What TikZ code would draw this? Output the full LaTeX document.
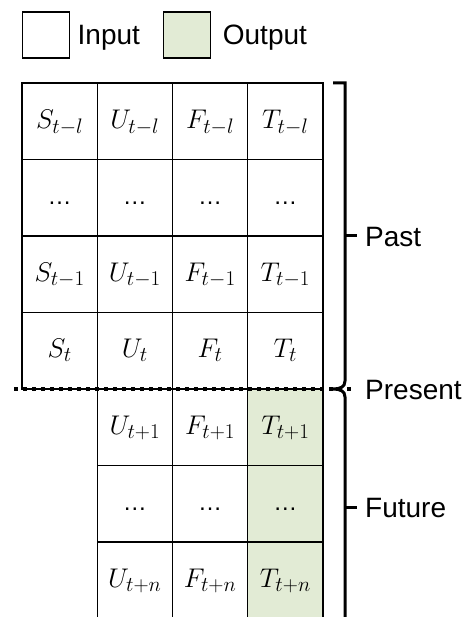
\RequirePackage{fix-cm}
\documentclass[tikz,border=0pt]{standalone}
\usepackage{fontspec}
\newfontfamily\labelfont{Liberation Sans}
\usetikzlibrary{positioning, calc}
\definecolor{outgreen}{RGB}{226,235,213}
\DeclareMathSizes{27}{27}{21}{16}

\begin{document}
\begin{tikzpicture}[
    x=1pt, y=-1pt,
    cell/.style={rectangle, minimum width=75.25pt, minimum height=76.5pt, inner sep=0pt, outer sep=0pt, text height=20pt, text depth=6pt, draw=black, line width=1.4pt, font=\fontsize{27}{31}\selectfont},
    outcell/.style={cell, fill=outgreen},
    keybox/.style={rectangle, minimum width=47pt, minimum height=46pt, inner sep=0pt, outer sep=0pt, draw=black, line width=1.4pt},
    sidetext/.style={inner sep=0pt, text height=20pt, text depth=0pt, font=\labelfont\fontsize{28}{32}\selectfont},
    bracket/.style={line width=3pt},
    divider/.style={line width=3.5pt, dash pattern=on 4pt off 5pt}
]
\useasboundingbox (0,0) rectangle (467,617);

% legend
\node (inkey) [keybox] at (46,35) {};
\node (intext) [sidetext, right=8pt of inkey] {Input};
\node (outkey) [keybox, fill=outgreen, right=23.5pt of intext] {};
\node (outtext) [sidetext, right=12pt of outkey] {Output};

% past rows
\node (s1) [cell] at (59.625,121.25) {$S_{t-l}$};
\node (u1) [cell, right=0pt of s1] {$U_{t-l}$};
\node (f1) [cell, right=0pt of u1] {$F_{t-l}$};
\node (t1) [cell, right=0pt of f1] {$T_{t-l}$};

\node (s2) [cell, below=0pt of s1] {\labelfont\fontsize{24}{28}\selectfont …};
\node (u2) [cell, below=0pt of u1] {\labelfont\fontsize{24}{28}\selectfont …};
\node (f2) [cell, below=0pt of f1] {\labelfont\fontsize{24}{28}\selectfont …};
\node (t2) [cell, below=0pt of t1] {\labelfont\fontsize{24}{28}\selectfont …};

\node (s3) [cell, below=0pt of s2] {$S_{t-1}$};
\node (u3) [cell, below=0pt of u2] {$U_{t-1}$};
\node (f3) [cell, below=0pt of f2] {$F_{t-1}$};
\node (t3) [cell, below=0pt of t2] {$T_{t-1}$};

\node (s4) [cell, below=0pt of s3] {$S_{t}$};
\node (u4) [cell, below=0pt of u3] {$U_{t}$};
\node (f4) [cell, below=0pt of f3] {$F_{t}$};
\node (t4) [cell, below=0pt of t3] {$T_{t}$};

% future rows
\node (u5) [cell, below=0pt of u4] {$U_{t+1}$};
\node (f5) [cell, below=0pt of f4] {$F_{t+1}$};
\node (t5) [outcell, below=0pt of t4] {$T_{t+1}$};

\node (u6) [cell, below=0pt of u5] {\labelfont\fontsize{24}{28}\selectfont …};
\node (f6) [cell, below=0pt of f5] {\labelfont\fontsize{24}{28}\selectfont …};
\node (t6) [outcell, below=0pt of t5] {\labelfont\fontsize{24}{28}\selectfont …};

\node (u7) [cell, below=0pt of u6] {$U_{t+n}$};
\node (f7) [cell, below=0pt of f6] {$F_{t+n}$};
\node (t7) [outcell, below=0pt of t6] {$T_{t+n}$};

% present line
\coordinate (nowleft) at ($(s4.south west)+(-8,0)$);
\coordinate (nowright) at ($(t4.south east)+(31,0)$);
\draw [divider] (nowleft) -- (nowright);

% brackets
\draw [bracket] ($(t1.north east)+(10,0)$) -- ($(t1.north east)+(22,0)$) -- (345,381)
    .. controls (345,387) and (340,389) .. (333,389)
    .. controls (340,389) and (345,391) .. (345,397) -- (345,625) -- (333,625);
\coordinate (pasttip) at (357,236);
\coordinate (futuretip) at (357,507);
\draw [bracket] (345,236) -- (pasttip);
\draw [bracket] (345,507) -- (futuretip);

\node (past) [sidetext, right=8pt of pasttip] {Past};
\node (present) [sidetext, anchor=west] at (365,389) {Present};
\node (future) [sidetext, right=8pt of futuretip] {Future};

\end{tikzpicture}
\end{document}
